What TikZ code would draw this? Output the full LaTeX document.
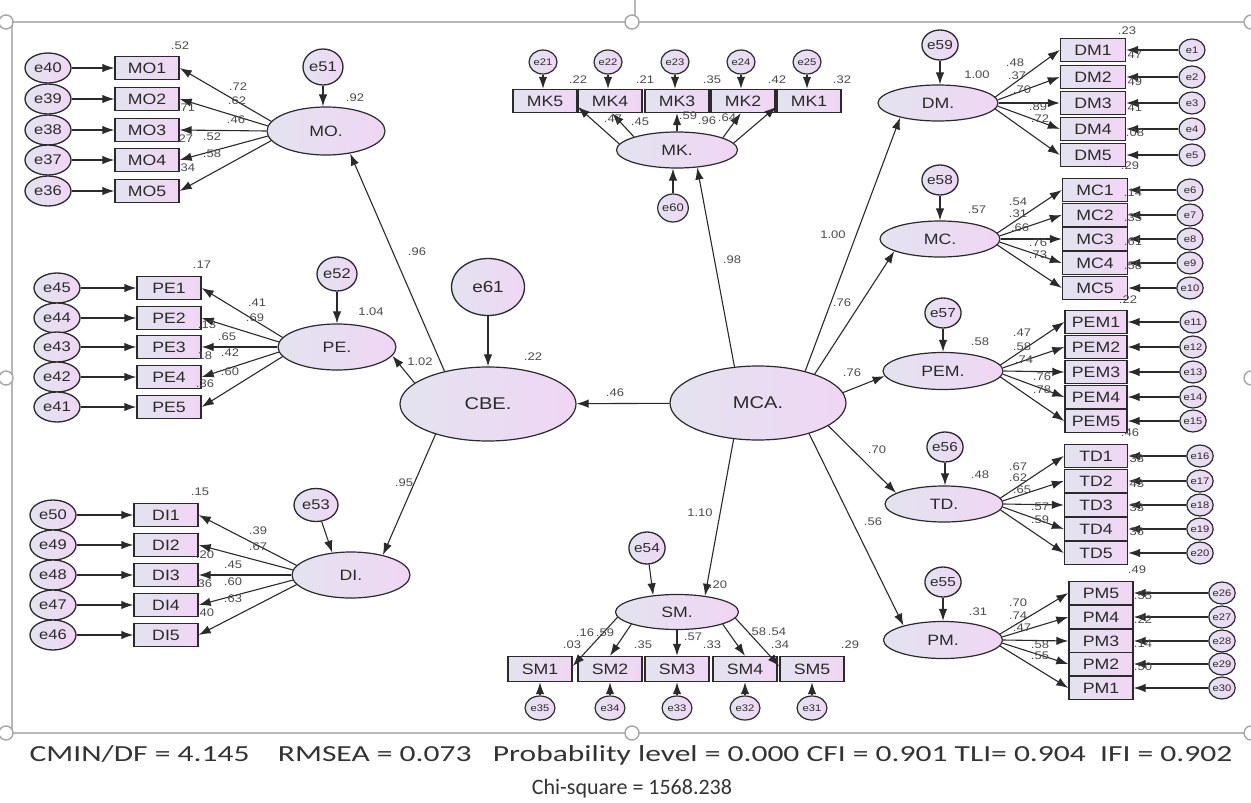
\documentclass[tikz,border=0pt]{standalone}
\usepackage{fontspec}
\setmainfont[FakeStretch=1.18]{Liberation Sans}
\newfontfamily\fitfont{Carlito}
\usetikzlibrary{shapes.geometric,arrows.meta}
\definecolor{fillL}{HTML}{E3E3EF}
\definecolor{fillR}{HTML}{F0D6F4}
\definecolor{ink}{HTML}{2A2A2A}
\definecolor{numink}{HTML}{4A4A4A}
\definecolor{framegray}{HTML}{B8B8B8}
\definecolor{fitink}{HTML}{333333}
\begin{document}
\begin{tikzpicture}[x=1pt,y=-1pt,
  latent/.style={ellipse, draw=ink, line width=1.2pt, left color=fillL, right color=fillR,
    inner sep=0pt, text=ink, font=\fontsize{15}{15}\selectfont},
  obs/.style={rectangle, draw=ink, line width=1.4pt, left color=fillL, right color=fillR,
    minimum width=64pt, minimum height=23pt, inner sep=0pt, text=ink, font=\fontsize{15}{15}\selectfont},
  errbig/.style={ellipse, draw=ink, line width=1.3pt, left color=fillL, right color=fillR,
    inner sep=0pt, minimum width=46pt, minimum height=30pt, text=ink, font=\fontsize{14}{14}\selectfont},
  errmid/.style={errbig, minimum width=36pt, minimum height=31pt, font=\fontsize{13}{13}\selectfont},
  errsmall/.style={ellipse, draw=ink, line width=1.2pt, left color=fillL, right color=fillR,
    inner sep=0pt, minimum width=26pt, minimum height=22pt, text=ink, font=\fontsize{9.5}{9.5}\selectfont},
  link/.style={draw=ink, line width=1.1pt, -{Latex[length=12pt,width=8.5pt]}},
  val/.style={inner sep=0pt, text=numink, font=\fontsize{11}{11}\selectfont},
]
\useasboundingbox (0,0) rectangle (1251,803);

% ---------- selection frame with handles ----------
\draw[framegray, line width=2.4pt] (0,22) -- (1251,22);
\draw[framegray, line width=2.4pt] (0,733) -- (1251,733);
\draw[framegray, line width=2pt] (12,22) -- (12,733);
\draw[framegray, line width=1.2pt] (635,0) -- (635,15);
\foreach \hx/\hy in {6/22,632/22,1251/22,6/378,1251/378,6/733,632/733,1251/733}
  \draw[gray!70, fill=white, line width=1.4pt] (\hx,\hy) circle (7);

% ---------- central latent variables ----------
\node[latent, minimum width=176pt, minimum height=74pt, font=\fontsize{17}{17}\selectfont] (CBE) at (488,404) {CBE.};
\node[latent, minimum width=176pt, minimum height=74pt, font=\fontsize{17}{17}\selectfont] (MCA) at (758,403) {MCA.};
\node[errbig, minimum width=73pt, minimum height=57pt, font=\fontsize{16}{16}\selectfont] (e61) at (488,287) {e61};

% ---------- MO block ----------
\node[latent, minimum width=118pt, minimum height=48pt] (MO) at (326,131) {MO.};
\node[errbig, minimum width=40pt, minimum height=36pt] (e51) at (323,67) {e51};
\foreach \i/\yy/\ev in {1/68/40,2/99/39,3/130/38,4/160/37,5/191/36}{
  \node[obs] (MO\i) at (147,\yy) {MO\i};
  \node[errbig] (e\ev) at (48,\yy) {e\ev};
  \draw[link] (e\ev.east) -- (MO\i.west);
}
\foreach \i/\a in {1/170,2/175,3/180,4/185,5/190} \draw[link] (MO.\a) -- (MO\i.east);
\draw[link] (e51) -- (e51 |- MO.north);

% ---------- PE block ----------
\node[latent, minimum width=118pt, minimum height=46pt] (PE) at (337,347) {PE.};
\node[errbig, minimum width=40pt, minimum height=34pt] (e52) at (337,274) {e52};
\foreach \i/\yy/\ev in {1/288/45,2/318/44,3/347/43,4/377/42,5/407/41}{
  \node[obs] (PE\i) at (169,\yy) {PE\i};
  \node[errbig] (e\ev) at (57,\yy) {e\ev};
  \draw[link] (e\ev.east) -- (PE\i.west);
}
\foreach \i/\a in {1/170,2/175,3/180,4/185,5/190} \draw[link] (PE.\a) -- (PE\i.east);
\draw[link] (e52) -- (e52 |- PE.north);

% ---------- DI block ----------
\node[latent, minimum width=118pt, minimum height=46pt] (DI) at (351,575) {DI.};
\node[errbig, minimum width=44pt, minimum height=33pt] (e53) at (316,505) {e53};
\foreach \i/\yy/\ev in {1/515/50,2/545/49,3/575/48,4/605/47,5/635/46}{
  \node[obs] (DI\i) at (166,\yy) {DI\i};
  \node[errbig] (e\ev) at (53,\yy) {e\ev};
  \draw[link] (e\ev.east) -- (DI\i.west);
}
\foreach \i/\a in {1/170,2/175,3/180,4/185,5/190} \draw[link] (DI.\a) -- (DI\i.east);
\draw[link] (e53) -- (DI.130);

% ---------- MK block ----------
\node[latent, minimum width=121pt, minimum height=36pt] (MK) at (677,150) {MK.};
\node[errsmall, minimum width=30pt, minimum height=28pt, font=\fontsize{11}{11}\selectfont] (e60) at (673,208) {e60};
\foreach \i/\xx/\ev in {5/545/21,4/610/22,3/677/23,2/743/24,1/809/25}{
  \node[obs] (MK\i) at (\xx,101) {MK\i};
  \node[errsmall, minimum width=28pt, minimum height=24pt] (e\ev) at (\xx-2,62) {e\ev};
  \draw[link] (e\ev) -- (e\ev |- MK\i.north);
}
\draw[link] (MK.174) -- (MK5.-10);
\draw[link] (MK.163) -- (MK4.-80);
\draw[link] (MK.90) -- (MK3.south);
\draw[link] (MK.15) -- (MK2.-100);
\draw[link] (MK.7) -- (MK1.190);
\draw[link] (e60.north) -- (e60.north |- MK.south);

% ---------- SM block ----------
\node[latent, minimum width=123pt, minimum height=35pt] (SM) at (677,612) {SM.};
\node[errmid, minimum width=34pt, minimum height=32pt] (e54) at (647,548) {e54};
\foreach \i/\xx/\ev in {1/540/35,2/610/34,3/677/33,4/745/32,5/812/31}{
  \node[obs, minimum height=25pt] (SM\i) at (\xx,669) {SM\i};
  \node[errsmall, minimum width=30pt, minimum height=24pt] (e\ev) at (\xx,708) {e\ev};
  \draw[link] (e\ev) -- (e\ev |- SM\i.south);
}
\draw[link] (SM.185) -- (SM1.5);
\draw[link] (SM.195) -- (SM2.north);
\draw[link] (SM.south) -- (SM3.north);
\draw[link] (SM.-15) -- (SM4.north);
\draw[link] (SM.-6) -- (SM5.175);
\draw[link] (e54) -- (SM.145);

% ---------- right blocks ----------
\node[latent, minimum width=120pt, minimum height=36pt] (DM) at (938,103) {DM.};
\node[errmid, minimum width=34pt, minimum height=30pt] (e59) at (940,45) {e59};
\foreach \i/\yy/\ev in {1/50/1,2/77/2,3/103/3,4/129/4,5/155/5}{
  \node[obs, minimum width=65pt] (DM\i) at (1093,\yy) {DM\i};
  \node[errsmall] (e\ev) at (1192,\yy) {e\ev};
  \draw[link] (e\ev.west) -- (DM\i.east);
}
\foreach \i/\a in {1/6,2/3,3/0,4/-3,5/-6} \draw[link] (DM.\a) -- (DM\i.west);
\draw[link] (e59) -- (e59 |- DM.north);

\node[latent, minimum width=120pt, minimum height=36pt] (MC) at (940,239) {MC.};
\node[errmid, minimum width=34pt, minimum height=30pt] (e58) at (940,180) {e58};
\foreach \i/\yy/\ev in {1/190/6,2/215/7,3/239/8,4/263/9,5/288/10}{
  \node[obs, minimum width=65pt] (MC\i) at (1095,\yy) {MC\i};
  \node[errsmall] (e\ev) at (1190,\yy) {e\ev};
  \draw[link] (e\ev.west) -- (MC\i.east);
}
\foreach \i/\a in {1/6,2/3,3/0,4/-3,5/-6} \draw[link] (MC.\a) -- (MC\i.west);
\draw[link] (e58) -- (e58 |- MC.north);

\node[latent, minimum width=120pt, minimum height=37pt] (PEM) at (943,371) {PEM.};
\node[errmid, minimum width=34pt, minimum height=30pt] (e57) at (943,313) {e57};
\foreach \i/\yy/\ev in {1/322/11,2/347/12,3/372/13,4/397/14,5/421/15}{
  \node[obs, minimum width=62pt] (PEM\i) at (1096,\yy) {PEM\i};
  \node[errsmall] (e\ev) at (1193,\yy) {e\ev};
  \draw[link] (e\ev.west) -- (PEM\i.east);
}
\foreach \i/\a in {1/6,2/3,3/0,4/-3,5/-6} \draw[link] (PEM.\a) -- (PEM\i.west);
\draw[link] (e57) -- (e57 |- PEM.north);

\node[latent, minimum width=118pt, minimum height=36pt] (TD) at (944,504) {TD.};
\node[errmid, minimum width=34pt, minimum height=30pt] (e56) at (945,447) {e56};
\foreach \i/\yy/\ev in {1/456/16,2/481/17,3/505/18,4/529/19,5/553/20}{
  \node[obs, minimum width=63pt] (TD\i) at (1096,\yy) {TD\i};
  \node[errsmall] (e\ev) at (1200,\yy) {e\ev};
  \draw[link] (e\ev.west) -- (TD\i.east);
}
\foreach \i/\a in {1/6,2/3,3/0,4/-3,5/-6} \draw[link] (TD.\a) -- (TD\i.west);
\draw[link] (e56) -- (e56 |- TD.north);

\node[latent, minimum width=119pt, minimum height=37pt] (PM) at (943,640) {PM.};
\node[errmid, minimum width=34pt, minimum height=30pt] (e55) at (943,582) {e55};
\foreach \i/\yy/\ev in {5/593/26,4/617/27,3/641/28,2/664/29,1/688/30}{
  \node[obs, minimum width=64pt] (PM\i) at (1101,\yy) {PM\i};
  \node[errsmall] (e\ev) at (1222,\yy) {e\ev};
  \draw[link] (e\ev.west) -- (PM\i.east);
}
\foreach \i/\a in {5/6,4/3,3/0,2/-3,1/-6} \draw[link] (PM.\a) -- (PM\i.west);
\draw[link] (e55) -- (e55 |- PM.north);

% ---------- structural paths ----------
\draw[link] (e61) -- (CBE);
\draw[link] (MCA) -- (CBE);
\draw[link] (CBE.143) -- (MO.-43);
\draw[link] (CBE.164) -- (PE.-9);
\draw[link] (CBE.210) -- (DI.32);
\draw[link] (MCA.123) -- (MK.-41);
\draw[link] (MCA.34) -- (DM.201);
\draw[link] (MCA.27) -- (MC.195);
\draw[link] (MCA.7) -- (PEM.185);
\draw[link] (MCA.-18) -- (TD.167);
\draw[link] (MCA.-31) -- (PM.160);
\draw[link] (MCA.-124) -- (SM.30);

% ---------- estimates ----------
\foreach \xx/\yy/\t in {
  533/357/.22, 420/362/1.02, 417/252/.96, 404/483/.95, 615/393/.46,
  732/260/.98, 833/235/1.00, 842/303/.76, 852/373/.76, 877/450/.70, 873/522/.56, 700/513/1.10,
  180/46/.52, 355/98/.92, 238/87/.72, 237/101/.62, 236/120/.46, 212/137/.52, 212/154/.58,
  186/108/.71, 184/139/.27, 186/168/.34,
  202/265/.17, 371/312/1.04, 257/303/.41, 255/318/.69, 227/337/.65, 230/353/.42, 230/372/.60,
  207/325/.13, 203/356/.18, 205/384/.36,
  200/492/.15, 258/531/.39, 258/547/.67, 233/565/.45, 233/582/.60, 233/599/.63,
  205/555/.20, 203/584/.36, 205/613/.40,
  578/80/.22, 645/80/.21, 712/80/.35, 777/80/.42, 842/80/.32,
  613/119/.47, 640/122/.45, 688/116/.59, 707/121/.96, 727/118/.64,
  718/585/.20, 572/645/.03, 643/645/.35, 712/645/.33, 780/645/.34, 850/645/.29,
  585/633/.16, 605/633/.59, 693/637/.57, 757/632/.58, 777/632/.54,
  977/75/1.00, 1015/63/.48, 1017/76/.37, 1022/90/.70, 1038/107/.89, 1040/119/.72,
  1127/31/.23, 1133/55/.47, 1133/82/.49, 1133/108/.41, 1135/133/.08, 1130/166/.29,
  977/210/.57, 1018/202/.54, 1018/214/.31, 1020/228/.66, 1038/243/.76, 1038/255/.73,
  1133/193/.14, 1133/218/.35, 1133/242/.61, 1133/266/.58, 1128/300/.22,
  980/342/.58, 1022/333/.47, 1022/347/.58, 1024/360/.74, 1042/377/.76, 1042/390/.78, 1130/433/.46,
  980/475/.48, 1018/467/.67, 1018/478/.62, 1022/490/.65, 1040/507/.57, 1040/520/.59, 1137/570/.49,
  1135/459/.38, 1135/484/.43, 1135/508/.33, 1135/532/.36,
  978/612/.31, 1018/603/.70, 1018/616/.74, 1022/628/.47, 1040/645/.58, 1040/656/.55,
  1143/596/.55, 1143/620/.22, 1143/644/.14, 1143/667/.50}
  \node[val] at (\xx,\yy) {\t};

% ---------- fit indices ----------
\node[text=fitink, inner sep=0pt, font=\fitfont\fontsize{23}{23}\selectfont] (fit1) at (631,755)
  {\scalebox{1.37}[1]{CMIN/DF = 4.145\ \ \ \ RMSEA = 0.073\ \ \ Probability level = 0.000 CFI = 0.901 TLI= 0.904\ \ IFI = 0.902}};
\node[text=fitink, inner sep=0pt, font=\fitfont\fontsize{22}{22}\selectfont] (fit2) at (632,789)
  {Chi-square = 1568.238};
\end{tikzpicture}
\end{document}
